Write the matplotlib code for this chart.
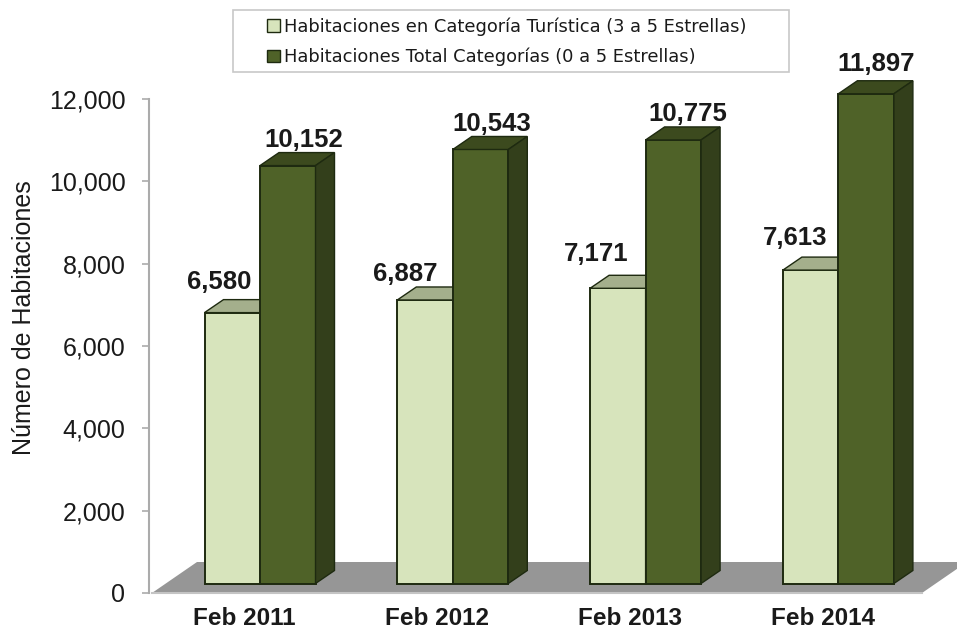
import numpy as np
import matplotlib.pyplot as plt
from matplotlib.patches import Patch, Polygon, Rectangle

plt.rcParams['font.family'] = ['Liberation Sans', 'DejaVu Sans']

WIDTH, HEIGHT = 957, 630

CATEGORIES = ['Feb 2011', 'Feb 2012', 'Feb 2013', 'Feb 2014']
TURISTICA = [6580, 6887, 7171, 7613]
TOTAL = [10152, 10543, 10775, 11897]
TICKS = [0, 2000, 4000, 6000, 8000, 10000, 12000]
LEGEND_1 = 'Habitaciones en Categoría Turística (3 a 5 Estrellas)'
LEGEND_2 = 'Habitaciones Total Categorías (0 a 5 Estrellas)'
YLABEL = 'Número de Habitaciones'

LIGHT = '#D7E4BC'
LIGHT_TOP = '#A4AF8C'
DARK = '#4F6228'
DARK_TOP = '#3C4A1E'
DARK_SIDE = '#333F1B'
EDGE = '#1E2A10'
FLOOR = '#969696'
AXIS = '#ABABAB'
TEXT = '#1A1A1A'

# axes em pixels, grupo = 1 unidade no x
AX_LEFT, AX_RIGHT, AX_TOP, AX_BOTTOM = 149, 957, 99, 593
GROUP_PX = 192.8
X0_PX = 260
PX_Y = 12000 / (AX_BOTTOM - AX_TOP)

BAR_W = 55.5 / GROUP_PX
BASE = 9.5 * PX_Y         # frente das barras fica acima do zero
DEPTH_X = 19 / GROUP_PX
DEPTH_Y = 13 * PX_Y

# rotulos foram colocados a mao no original (pixels: dx, dy)
LABEL_OFF_1 = [(-13, 31), (-20, 26), (-22, 34), (-16, 32)]
LABEL_OFF_2 = [(16, 26), (11, 25), (14, 26), (10, 30)]


def draw_box(ax, x, value, face, top, side):
    '''
    Barra com falso 3D: frente, topo e lateral
    '''
    y0 = BASE
    y1 = BASE + value
    ax.bar(x, value, BAR_W, bottom=y0, align='edge', color=face, edgecolor=EDGE, linewidth=1.4, zorder=3, clip_on=False)
    ax.add_patch(Polygon([(x, y1), (x + DEPTH_X, y1 + DEPTH_Y), (x + BAR_W + DEPTH_X, y1 + DEPTH_Y), (x + BAR_W, y1)],
                         facecolor=top, edgecolor=EDGE, linewidth=1, clip_on=False, zorder=3))
    ax.add_patch(Polygon([(x + BAR_W, y0), (x + BAR_W + DEPTH_X, y0 + DEPTH_Y), (x + BAR_W + DEPTH_X, y1 + DEPTH_Y), (x + BAR_W, y1)],
                         facecolor=side, edgecolor=EDGE, linewidth=1, clip_on=False, zorder=3))


def draw_label(ax, x, value, off):
    ax.annotate(f'{value:,}', (x + BAR_W / 2, BASE + value), xytext=(off[0] * 0.72, off[1] * 0.72),
                textcoords='offset points', ha='center', va='center', fontsize=18.5, fontweight='bold',
                color=TEXT, zorder=5, annotation_clip=False)


fig = plt.figure(figsize=(WIDTH / 100, HEIGHT / 100), dpi=100)
ax = fig.add_axes([AX_LEFT / WIDTH, 1 - AX_BOTTOM / HEIGHT, (AX_RIGHT - AX_LEFT) / WIDTH, (AX_BOTTOM - AX_TOP) / HEIGHT])
xmin = (AX_LEFT - X0_PX) / GROUP_PX
xmax = (AX_RIGHT - X0_PX) / GROUP_PX
ax.set_xlim(xmin, xmax)
ax.set_ylim(0, TICKS[-1])

# piso cinza
floor_left = (152 - X0_PX) / GROUP_PX
floor_right = (922 - X0_PX) / GROUP_PX
floor_dx = 45 / GROUP_PX
floor_dy = 31 * PX_Y
ax.add_patch(Polygon([(floor_left, 0), (floor_left + floor_dx, floor_dy), (floor_right + floor_dx, floor_dy), (floor_right, 0)],
                     facecolor=FLOOR, edgecolor='none', zorder=1))
ax.plot([floor_left, floor_right], [0, 0], color='#C4C4C4', linewidth=1.5, zorder=2, clip_on=False)

groups = np.arange(len(CATEGORIES))
for i in groups:
    draw_box(ax, i - BAR_W, TURISTICA[i], LIGHT, LIGHT_TOP, LIGHT_TOP)
    draw_box(ax, i, TOTAL[i], DARK, DARK_TOP, DARK_SIDE)
    draw_label(ax, i - BAR_W, TURISTICA[i], LABEL_OFF_1[i])
    draw_label(ax, i, TOTAL[i], LABEL_OFF_2[i])

for name in ['top', 'right', 'bottom']:
    ax.spines[name].set_visible(False)
ax.spines['left'].set_color(AXIS)
ax.spines['left'].set_linewidth(1.5)

ax.set_yticks(TICKS)
ax.set_yticklabels([f'{t:,}' for t in TICKS], fontsize=18, color=TEXT)
ax.tick_params(axis='y', length=5, width=1.2, color=AXIS, pad=12)
ax.set_xticks(groups - 15.5 / GROUP_PX)
ax.set_xticklabels(CATEGORIES, fontsize=17.5, fontweight='bold', color=TEXT)
ax.tick_params(axis='x', length=0, pad=10)
fig.text(24 / WIDTH, 1 - 318 / HEIGHT, YLABEL, rotation=90, ha='center', va='center', fontsize=18, color=TEXT)

# caixa da legenda
fig.add_artist(Rectangle((233 / WIDTH, 1 - 72 / HEIGHT), 556 / WIDTH, 62 / HEIGHT, transform=fig.transFigure,
                         facecolor='white', edgecolor='#C8C8C8', linewidth=1.2))
handles = [Patch(facecolor=LIGHT, edgecolor=EDGE, label=LEGEND_1), Patch(facecolor=DARK, edgecolor=EDGE, label=LEGEND_2)]
fig.legend(handles=handles, loc='upper left', bbox_to_anchor=(267 / WIDTH, 1 - 17 / HEIGHT), frameon=False,
           prop={'family': 'DejaVu Sans', 'size': 12.9}, handlelength=0.72, handleheight=0.72, handletextpad=0.25,
           labelspacing=0.68, borderpad=0, borderaxespad=0, labelcolor=TEXT)

plt.savefig('out.png', dpi=100)
